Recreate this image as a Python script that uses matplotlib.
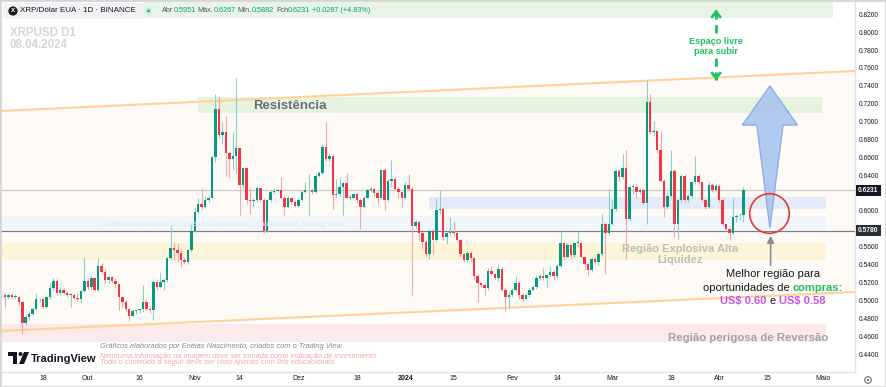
import pandas as pd
import matplotlib
matplotlib.use("Agg")
import matplotlib.pyplot as plt
import matplotlib.dates as mdates
from matplotlib.patches import Polygon, Rectangle, Circle
from matplotlib.transforms import IdentityTransform, blended_transform_factory

plt.rcParams['font.family'] = ['Liberation Sans', 'DejaVu Sans']

W, H = 886, 387

# XRP/USD daily candles (Binance), 07.09.2023 - 08.04.2024
first_day = "2023-09-07"
opens = [.506, .504, .506, .504, .504, .498, .475, .481, .485, .490,
         .501, .501, .493, .504, .514, .522, .508, .512, .508, .506,
         .506, .503, .501, .511, .522, .515, .525, .512, .539, .532,
         .523, .526, .522, .518, .504, .498, .490, .483, .488, .489,
         .490, .498, .490, .489, .521, .515, .521, .523, .547, .559,
         .556, .553, .545, .543, .556, .578, .599, .608, .605, .612,
         .615, .660, .714, .685, .688, .665, .658, .661, .670, .629,
         .648, .612, .611, .612, .626, .612, .578, .612, .621, .622,
         .623, .615, .604, .615, .610, .606, .612, .621, .623, .624,
         .621, .639, .643, .672, .658, .662, .618, .619, .627, .631,
         .615, .615, .619, .612, .604, .615, .623, .625, .620, .614,
         .646, .612, .634, .636, .625, .621, .615, .629, .625, .583,
         .588, .575, .565, .552, .578, .567, .601, .602, .571, .575,
         .577, .575, .567, .552, .545, .553, .547, .527, .519, .517,
         .514, .533, .530, .525, .535, .512, .504, .506, .512, .520,
         .506, .502, .506, .512, .515, .525, .527, .525, .528, .532,
         .527, .538, .564, .549, .562, .551, .564, .564, .549, .541,
         .534, .546, .543, .552, .586, .575, .586, .602, .645, .638,
         .648, .591, .627, .627, .621, .623, .609, .722, .688, .689,
         .668, .634, .604, .617, .645, .585, .612, .639, .612, .617,
         .632, .639, .632, .612, .604, .629, .623, .628, .612, .585,
         .580, .575, .593, .594, .5951]
highs = [.508, .508, .508, .507, .506, .499, .485, .488, .493, .508,
         .503, .503, .505, .519, .525, .524, .515, .514, .511, .508,
         .508, .508, .512, .549, .525, .527, .526, .547, .542, .535,
         .527, .527, .525, .520, .505, .500, .492, .490, .490, .492,
         .517, .500, .495, .523, .523, .532, .525, .549, .586, .565,
         .564, .557, .549, .558, .586, .605, .615, .626, .617, .618,
         .662, .731, .727, .699, .706, .667, .688, .749, .671, .649,
         .649, .626, .615, .628, .626, .614, .613, .623, .626, .625,
         .638, .617, .617, .616, .612, .615, .623, .632, .641, .625,
         .641, .645, .675, .699, .664, .663, .636, .638, .632, .643,
         .619, .620, .620, .614, .617, .625, .627, .626, .622, .647,
         .648, .636, .657, .638, .627, .622, .632, .641, .627, .590,
         .590, .577, .568, .580, .580, .615, .623, .604, .577, .593,
         .589, .577, .569, .553, .555, .555, .549, .529, .521, .519,
         .536, .538, .531, .541, .537, .514, .510, .514, .527, .522,
         .508, .508, .514, .517, .528, .530, .536, .530, .538, .534,
         .541, .578, .565, .564, .563, .565, .577, .566, .550, .542,
         .548, .548, .554, .597, .588, .625, .612, .647, .647, .664,
         .668, .628, .630, .630, .626, .625, .746, .731, .701, .690,
         .689, .636, .621, .668, .647, .614, .641, .641, .619, .634,
         .662, .641, .634, .613, .632, .631, .630, .630, .614, .587,
         .582, .615, .597, .598, .6267]
lows = [.493, .502, .501, .502, .495, .462, .472, .478, .482, .489,
        .498, .491, .491, .502, .512, .506, .506, .507, .504, .493,
        .501, .499, .498, .509, .512, .513, .510, .510, .530, .520,
        .520, .520, .515, .489, .493, .487, .477, .482, .485, .486,
        .487, .489, .486, .478, .512, .514, .512, .521, .545, .545,
        .543, .537, .541, .541, .554, .576, .598, .602, .603, .610,
        .615, .655, .682, .675, .639, .638, .647, .641, .595, .626,
        .608, .597, .604, .610, .610, .575, .576, .610, .619, .621,
        .614, .595, .603, .608, .604, .604, .611, .620, .595, .619,
        .620, .638, .641, .656, .656, .602, .615, .617, .595, .614,
        .612, .614, .609, .580, .603, .615, .621, .617, .608, .613,
        .601, .610, .627, .623, .614, .604, .613, .623, .506, .580,
        .567, .558, .549, .546, .552, .565, .597, .567, .563, .573,
        .572, .565, .549, .543, .543, .545, .523, .498, .515, .506,
        .512, .528, .523, .522, .510, .488, .491, .504, .510, .502,
        .499, .500, .504, .510, .513, .523, .523, .515, .526, .523,
        .525, .536, .545, .547, .547, .549, .560, .547, .534, .527,
        .532, .541, .540, .550, .530, .573, .584, .600, .634, .636,
        .546, .589, .619, .615, .619, .608, .585, .686, .684, .665,
        .632, .593, .602, .615, .571, .569, .610, .610, .610, .615,
        .630, .630, .610, .602, .603, .621, .621, .610, .583, .578,
        .567, .573, .588, .590, .5882]
closes = [.504, .506, .504, .504, .498, .475, .481, .485, .490, .501,
          .501, .493, .504, .514, .522, .508, .512, .508, .506, .506,
          .503, .501, .511, .522, .515, .525, .512, .539, .532, .523,
          .526, .522, .518, .504, .498, .490, .483, .488, .489, .490,
          .498, .490, .489, .521, .515, .521, .523, .547, .559, .556,
          .553, .545, .543, .556, .578, .599, .608, .605, .612, .615,
          .660, .714, .685, .688, .665, .658, .661, .670, .629, .648,
          .612, .611, .612, .626, .612, .578, .612, .621, .622, .623,
          .615, .604, .615, .610, .606, .612, .621, .623, .624, .621,
          .639, .643, .672, .658, .662, .618, .619, .627, .631, .615,
          .615, .619, .612, .604, .615, .623, .625, .620, .614, .646,
          .612, .634, .636, .625, .621, .615, .629, .625, .583, .588,
          .575, .565, .552, .578, .567, .601, .602, .571, .575, .577,
          .575, .567, .552, .545, .553, .547, .527, .519, .517, .514,
          .533, .530, .525, .535, .512, .504, .506, .512, .520, .506,
          .502, .506, .512, .515, .525, .527, .525, .528, .532, .527,
          .538, .564, .549, .562, .551, .564, .564, .549, .541, .534,
          .546, .543, .552, .586, .575, .586, .602, .645, .638, .648,
          .591, .627, .627, .621, .623, .609, .722, .688, .689, .668,
          .634, .604, .617, .645, .585, .612, .639, .612, .617, .632,
          .639, .632, .612, .604, .629, .623, .628, .612, .585, .580,
          .575, .593, .594, .5944, .6231]

tick_days = ["2023-09-18", "2023-10-01", "2023-10-16", "2023-11-01", "2023-11-14",
             "2023-12-01", "2023-12-18", "2024-01-01", "2024-01-15", "2024-02-01",
             "2024-02-14", "2024-03-01", "2024-03-18", "2024-04-01", "2024-04-15",
             "2024-05-01"]
tick_names = ["18", "Out", "16", "Nov", "14", "Dez", "18", "2024", "15", "Fev",
              "14", "Mar", "18", "Abr", "15", "Maio"]
price_ticks = [0.44, 0.46, 0.48, 0.50, 0.52, 0.54, 0.56, 0.60, 0.64, 0.66,
               0.68, 0.70, 0.72, 0.74, 0.76, 0.78, 0.80, 0.82]
last_price = 0.6231
support_price = 0.5780

# drawn zones: start, end, low, high, colour
zones = [("2023-10-17", "2024-05-04", 0.8159, 0.8338, '#e8f5e6'),
         ("2023-11-02", "2024-04-30 18:00", 0.7096, 0.7275, '#e7f3e1'),
         ("2024-01-08", "2024-05-02", 0.6022, 0.6156, '#e3ebf8'),
         ("2023-09-04", "2024-05-02", 0.5787, 0.5944, '#f1f5fc'),
         ("2023-09-04", "2024-05-02", 0.5452, 0.5642, '#fdf5da'),
         ("2023-09-04", "2024-05-02", 0.4534, 0.4736, '#fce9ea')]
# channel lines (value at left and right edge)
channel_top = (0.7118, 0.7566)
channel_bottom = (0.4658, 0.5094)

fig = plt.figure(figsize=(W / 100, H / 100), dpi=100)
ax = fig.add_axes([0, 15 / H, 855 / W, 372 / H])

sep18 = mdates.date2num(pd.Timestamp("2023-09-18"))
x_left, x_right = sep18 - 12.46, sep18 + 235.36
ax.set_xlim(x_left, x_right)
ax.set_ylim(0.4199, 0.8360)

# channel
ax.fill_between([x_left, x_right], channel_bottom, channel_top, color='#fefbf6', lw=0, zorder=0)
ax.plot([x_left, x_right], channel_top, color='#ffd199', lw=1.5, zorder=1)
ax.plot([x_left, x_right], channel_bottom, color='#ffd199', lw=1.5, zorder=1)

for a, b, lo, hi, col in zones:
    xa = mdates.date2num(pd.Timestamp(a))
    xb = mdates.date2num(pd.Timestamp(b))
    ax.add_patch(Rectangle((xa, lo), xb - xa, hi - lo, fc=col, ec='none', zorder=0.5))

ax.axhline(last_price, color='#c9c9c9', lw=0.9, zorder=1)
ax.axhline(support_price, color='#7b7e87', lw=0.9, zorder=1)

# candles
dates = pd.date_range(first_day, periods=len(closes), freq="D")
xd = mdates.date2num(dates)
up = [c >= o for o, c in zip(opens, closes)]
body_col = ['#089981' if u else '#f23645' for u in up]
wick_col = ['#8dd0c5' if u else '#f7a5ac' for u in up]
ax.vlines(xd, lows, highs, colors=wick_col, lw=0.8, zorder=3)
bottoms = [min(o, c) for o, c in zip(opens, closes)]
heights = [max(abs(c - o), 0.0009) for o, c in zip(opens, closes)]
ax.bar(xd, heights, bottom=bottoms, width=0.72, color=body_col, lw=0, zorder=4)

# axes styling
ax.yaxis.tick_right()
ax.set_yticks(price_ticks)
ax.set_yticklabels(["%.4f" % p for p in price_ticks])
ax.tick_params(axis='y', length=0, pad=3, labelsize=4.8, labelcolor='#131722')
ax.set_xticks(mdates.date2num(pd.to_datetime(tick_days)))
ax.set_xticklabels(tick_names)
ax.tick_params(axis='x', length=0, pad=2.5, labelsize=5, labelcolor='#131722')
ax.get_xticklabels()[7].set_fontweight('bold')
for s in ['top', 'left']:
    ax.spines[s].set_visible(False)
for s in ['right', 'bottom']:
    ax.spines[s].set_color('#e0e3eb')
    ax.spines[s].set_linewidth(1)

# price labels on the scale
bt = blended_transform_factory(ax.transAxes, ax.transData)
for p, bg in [(last_price, '#131722'), (support_price, '#2a2e39')]:
    ax.text(1 + 3 / 855, p, "%.4f" % p, transform=bt, ha='left', va='center', fontsize=4.8,
            color='white', fontweight='bold', clip_on=False,
            bbox=dict(boxstyle='square,pad=0.35', fc=bg, ec='none'))

# annotations on the chart
ax.text(sep18 + 71.6, 0.7178, "Resistência", fontsize=9.5, fontweight='bold',
        color='#6b6e78', ha='center', va='center', zorder=5)
ax.text(sep18 + 184.6, 0.551, "Região Explosiva Alta\nLiquidez", fontsize=8,
        fontweight='bold', color='#bdbdbd', ha='center', va='center',
        linespacing=1.1, zorder=5)
ax.text(sep18 + 204.3, 0.4579, "Região perigosa de Reversão", fontsize=8.2,
        fontweight='bold', color='#a3a3a3', ha='center', va='center', zorder=5)

green = '#1fc05f'
arr_x = sep18 + 195.1
ax.text(arr_x, 0.7845, "Espaço livre\npara subir", fontsize=6.6, fontweight='bold',
        color=green, ha='center', va='center', linespacing=1.15, zorder=5)
for y0, y1 in [(0.7991, 0.8248), (0.7711, 0.7465)]:
    ax.plot([arr_x, arr_x], [y0, y1], color=green, lw=2, ls=(0, (3, 2)), zorder=5)
    ax.annotate("", xy=(arr_x, y1), xytext=(arr_x, y1 + (y0 - y1) * 0.2),
                arrowprops=dict(arrowstyle='->,head_length=0.35,head_width=0.3',
                                color=green, lw=2), zorder=5)

# blue arrow (wedge shaft + head)
bx = sep18 + 210.7
tip, neck, tail = 0.7398, 0.6961, 0.5809
ax.add_patch(Polygon([(bx, tip), (bx + 8, neck), (bx + 3.8, neck), (bx, tail),
                      (bx - 3.8, neck), (bx - 8, neck)], closed=True,
                     fc='#a9c5ef', ec='#86aae6', lw=1, alpha=0.9, zorder=5))
ax.plot([sep18 + 210.4], [0.5977], marker='o', ms=28.5, mfc='none',
        mec='#e53935', mew=1.2, zorder=6)
ax.annotate("", xy=(sep18 + 210.9, 0.5754), xytext=(sep18 + 210.9, 0.5362),
            arrowprops=dict(arrowstyle='-|>,head_length=0.4,head_width=0.2',
                            color='#8c8c8c', lw=1.2), zorder=6)


rend = fig.canvas.get_renderer()


def text_width(s, size, weight='normal', style='normal'):
    t = fig.text(0, 0, s, fontsize=size, fontweight=weight, style=style)
    w = t.get_window_extent(rend).width
    t.remove()
    return w


def draw_parts(x, y, parts, size, align='center', style='normal'):
    """Coloured pieces on one line; x, y in pixels (y from the bottom)."""
    sp = text_width("x x", size) - text_width("xx", size)
    items = []
    for s, col, weight, gap in parts:
        t = fig.text(0, 0, s, fontsize=size, color=col, fontweight=weight, style=style,
                     ha='left', va='center', transform=IdentityTransform(), zorder=7)
        items.append((t, t.get_window_extent(rend).width, sp if gap else 0))
    total = sum(w + g for _, w, g in items)
    cur = x - total / 2 if align == 'center' else x
    for t, w, g in items:
        cur += g
        t.set_position((cur, y))
        cur += w


dark = '#131722'
purple = '#c554e6'
cx, cy = ax.transData.transform((sep18 + 211.6, 0.5295))
draw_parts(cx, cy, [("Melhor região para", dark, 'normal', False)], 8)
cx, cy = ax.transData.transform((sep18 + 211.6, 0.5144))
draw_parts(cx, cy, [("oportunidades de", dark, 'normal', False),
                    ("compras:", green, 'bold', True)], 8)
cx, cy = ax.transData.transform((sep18 + 211.6, 0.4993))
draw_parts(cx, cy, [("US$ 0.60", purple, 'bold', False), ("e", dark, 'normal', True),
                    ("US$ 0.58", purple, 'bold', True)], 8)

# header / legend
fig.add_artist(Rectangle((3, H - 19), 140, 16, transform=IdentityTransform(),
                         fc='#f1f2f4', ec='none'))
fig.add_artist(Circle((13, H - 11), 4.6, transform=IdentityTransform(), fc='#1e1e1e', ec='none'))
fig.text(13, H - 11, "X", fontsize=4.5, color='white', fontweight='bold', ha='center',
         va='center', transform=IdentityTransform())
fig.text(20, H - 11, "XRP/Dólar EUA · 1D · BINANCE", fontsize=5.8, color=dark,
         ha='left', va='center', transform=IdentityTransform())
fig.add_artist(Circle((148.5, H - 11), 2.2, transform=IdentityTransform(),
                      fc='#089981', ec='#bfe5dc', lw=1.5))
tv_green = '#089981'
draw_parts(162, H - 11, [("Abr", '#50535e', 'normal', False), ("0.5951", tv_green, 'normal', False),
                         ("Máx.", '#50535e', 'normal', True), ("0.6267", tv_green, 'normal', False),
                         ("Mín.", '#50535e', 'normal', True), ("0.5882", tv_green, 'normal', False),
                         ("Fch", '#50535e', 'normal', True), ("0.6231", tv_green, 'normal', False),
                         ("+0.0287 (+4.83%)", tv_green, 'normal', True)], 5.2, align='left')

# watermark
fig.text(10, H - 33, "XRPUSD D1", fontsize=8.3, fontweight='bold', color='#d3d5da',
         ha='left', va='center', transform=IdentityTransform())
fig.text(10, H - 45, "08.04.2024", fontsize=8.3, fontweight='bold', color='#d3d5da',
         ha='left', va='center', transform=IdentityTransform())
fig.text(102, H - 224, "Gráficos elaborados por Enéias Nascimento, criados com o Trading View",
         fontsize=5.4, style='italic', color='#e4e6ea', ha='left', va='center',
         transform=IdentityTransform())

# footer
fig.text(100, H - 346, "Gráficos elaborados por Enéias Nascimento, criados com o Trading View",
         fontsize=5.4, style='italic', color='#8a8a8a', ha='left', va='center',
         transform=IdentityTransform())
fig.text(100, H - 356, "Nenhuma informação na imagem deve ser tomada como indicação de investimento.",
         fontsize=5.4, style='italic', color='#f4a9a9', ha='left', va='center',
         transform=IdentityTransform())
fig.text(100, H - 363, "Todo o conteúdo a seguir deve ser visto apenas com fins educacionais",
         fontsize=5.4, style='italic', color='#f4a9a9', ha='left', va='center',
         transform=IdentityTransform())

# TradingView logo
idt = IdentityTransform()
fig.add_artist(Rectangle((8, H - 356), 9, 4, transform=idt, fc='#131722', ec='none'))
fig.add_artist(Rectangle((13, H - 364), 4, 12, transform=idt, fc='#131722', ec='none'))
fig.add_artist(Circle((20.5, H - 354), 2, transform=idt, fc='#131722', ec='none'))
fig.add_artist(Polygon([(24, H - 352), (29, H - 352), (24, H - 364), (19, H - 364)],
                       closed=True, transform=idt, fc='#131722', ec='none'))
fig.text(31, H - 358.5, "TradingView", fontsize=8, fontweight='bold', color='#131722',
         ha='left', va='center', transform=idt)

# bottom right settings icon
fig.add_artist(Circle((868, H - 380), 3.3, transform=idt, fc='none', ec='#6a6d78', lw=0.8))
fig.add_artist(Circle((868, H - 380), 1.1, transform=idt, fc='#6a6d78', ec='none'))

# frame
fig.add_artist(Rectangle((0, 0), 1, 1, transform=fig.transFigure, fill=False,
                         ec='#d6d6d6', lw=2))

fig.savefig("out.png", dpi=100)
